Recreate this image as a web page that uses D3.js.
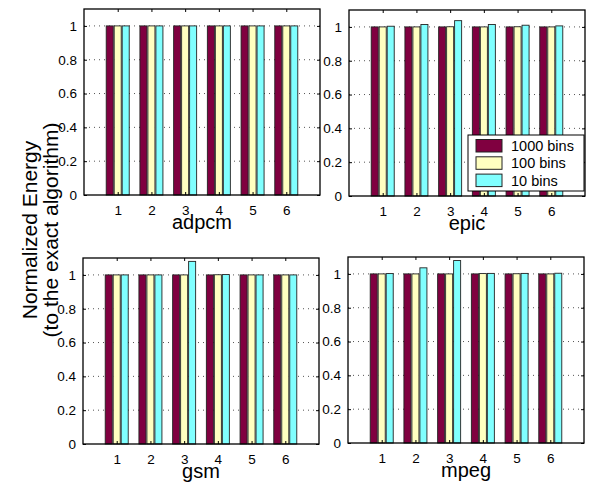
<!DOCTYPE html>
<html>
<head>
<meta charset="utf-8">
<script src="https://cdn.jsdelivr.net/npm/d3@7"></script>
<style>
  body { margin: 0; background: #fff; }
  svg { display: block; font-family: "Liberation Sans", Arial, Helvetica, sans-serif; }
</style>
</head>
<body>
<div id="chart"></div>
<script>
// data
const benchmarks = ["adpcm", "epic", "gsm", "mpeg"];
const groups = [1, 2, 3, 4, 5, 6];
const seriesNames = ["1000 bins", "100 bins", "10 bins"];
const seriesColours = ["#800040", "#FFFFC0", "#80FFFF"];
const yTicks = [0, 0.2, 0.4, 0.6, 0.8, 1];

const adpcm1000 = [1, 1, 1, 1, 1, 1];
const adpcm100 = [1, 1, 1, 1, 1, 1];
const adpcm10 = [1, 1, 1, 1, 1, 1];
const epic1000 = [1, 1, 1, 1, 1, 1];
const epic100 = [1.0, 1.0, 1.001, 1.0, 1.001, 1.0];
const epic10 = [1.004, 1.014, 1.037, 1.014, 1.01, 1.006];
const gsm1000 = [1, 1, 1, 1, 1, 1];
const gsm100 = [1, 1, 1, 1.001, 1, 1];
const gsm10 = [1.0, 1.0, 1.08, 1.002, 1.0, 1.0];
const mpeg1000 = [1, 1, 1, 1, 1, 1];
const mpeg100 = [1.0, 1.0, 1.0, 1.002, 1.001, 1.0];
const mpeg10 = [1.002, 1.036, 1.079, 1.003, 1.003, 1.004];

const panelData = {
    adpcm: [adpcm1000, adpcm100, adpcm10],
    epic: [epic1000, epic100, epic10],
    gsm: [gsm1000, gsm100, gsm10],
    mpeg: [mpeg1000, mpeg100, mpeg10]
};

const W = 598, H = 483;
const svg = d3.select("#chart").append("svg")
    .attr("width", W)
    .attr("height", H);

const pw = 236, ph = 186;
const origins = {
    adpcm: [84, 9],
    epic: [349, 10],
    gsm: [83, 258],
    mpeg: [348, 257]
};

const x = d3.scaleLinear().domain([0, 7]).range([0, pw]);
const y = d3.scaleLinear().domain([0, 1.1]).range([ph, 0]);
const inner = d3.scaleBand().domain(d3.range(3)).range([-11.5, 11.5]).paddingInner(0.12);

benchmarks.forEach(name => {
    const [ox, oy] = origins[name];
    const g = svg.append("g").attr("transform", `translate(${ox},${oy})`);
    const vals = panelData[name];

    // dotted grid
    g.append("g")
        .selectAll("line")
        .data(yTicks.filter(t => t > 0))
        .enter()
        .append("line")
        .attr("x1", 0).attr("x2", pw)
        .attr("y1", d => y(d)).attr("y2", d => y(d))
        .attr("stroke", "#555")
        .attr("stroke-width", 1)
        .attr("stroke-dasharray", "1,4");

    // bars
    const rows = [];
    groups.forEach((grp, i) => {
        vals.forEach((s, j) => rows.push({ grp, j, v: s[i] }));
    });
    g.append("g")
        .selectAll("rect")
        .data(rows)
        .enter()
        .append("rect")
        .attr("x", d => x(d.grp) + inner(d.j))
        .attr("y", d => y(d.v))
        .attr("width", inner.bandwidth())
        .attr("height", d => y(0) - y(d.v))
        .attr("fill", d => seriesColours[d.j])
        .attr("stroke", "#222")
        .attr("stroke-width", 0.9);

    // axes with inward ticks on all sides
    const yAx = g.append("g")
        .call(d3.axisLeft(y).tickValues(yTicks).tickSize(-3).tickPadding(7).tickFormat(d3.format("~g")));
    yAx.select(".domain").remove();
    g.append("g")
        .attr("transform", `translate(${pw},0)`)
        .call(d3.axisRight(y).tickValues(yTicks).tickSize(-3).tickFormat(""))
        .select(".domain").remove();
    const xAx = g.append("g")
        .attr("transform", `translate(0,${ph})`)
        .call(d3.axisBottom(x).tickValues(groups).tickSize(-3).tickPadding(10).tickFormat(d3.format("d")));
    xAx.select(".domain").remove();
    g.append("g")
        .call(d3.axisTop(x).tickValues(groups).tickSize(-3).tickFormat(""))
        .select(".domain").remove();

    g.selectAll(".tick text")
        .attr("font-size", 13.5)
        .attr("font-family", "Liberation Sans, Arial, sans-serif")
        .attr("fill", "#000");
    g.selectAll(".tick line").attr("stroke", "#000");

    g.append("rect")
        .attr("width", pw).attr("height", ph)
        .attr("fill", "none")
        .attr("stroke", "#000")
        .attr("stroke-width", 1.3);

    g.append("text")
        .attr("x", pw / 2)
        .attr("y", ph + 34)
        .attr("text-anchor", "middle")
        .attr("font-size", 20)
        .text(name);

    if (name === "epic") {
        const lg = g.append("g").attr("transform", `translate(${pw - 117},${125})`);
        lg.append("rect")
            .attr("width", 116).attr("height", 56)
            .attr("fill", "#fff")
            .attr("stroke", "#000")
            .attr("stroke-width", 1);
        const item = lg.selectAll("g.item")
            .data(seriesNames)
            .enter()
            .append("g")
            .attr("class", "item")
            .attr("transform", (d, i) => `translate(8,${4.5 + i * 17.3})`);
        item.append("rect")
            .attr("width", 26).attr("height", 12.5)
            .attr("fill", (d, i) => seriesColours[i])
            .attr("stroke", "#222");
        item.append("text")
            .attr("x", 35)
            .attr("y", 11.5)
            .attr("font-size", 14.5)
            .text(d => d);
    }
});

// shared y label
const yl = svg.append("text")
    .attr("transform", "translate(0,230) rotate(-90)")
    .attr("text-anchor", "middle")
    .attr("font-size", 21);
yl.append("tspan").attr("x", 0).attr("y", 37).text("Normalized Energy");
yl.append("tspan").attr("x", 0).attr("y", 58).text("(to the exact algorithm)");
</script>
</body>
</html>
